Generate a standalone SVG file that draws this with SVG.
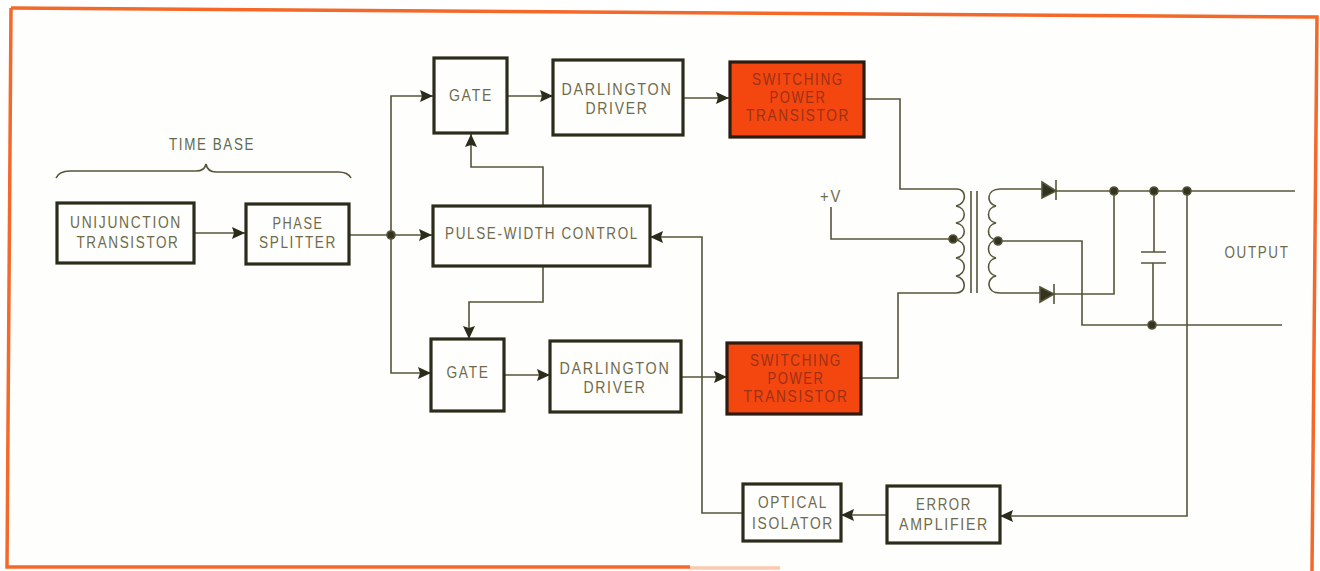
<svg xmlns="http://www.w3.org/2000/svg" width="1320" height="571" viewBox="0 0 1320 571">
<style>
.b{fill:#fefefc;stroke:#2c2c1c;stroke-width:3.2}
.r{fill:#f4460f;stroke:#2c1c12;stroke-width:3.2}
text{font-family:"Liberation Sans",Arial,sans-serif;font-size:16.5px;letter-spacing:2px;text-anchor:middle;fill:#6e6a4c}
.d{fill:#9c3216}
.w{fill:none;stroke:#55553a;stroke-width:1.6}
.dot{fill:#33331f}
</style>
<defs>
<marker id="a" markerUnits="userSpaceOnUse" markerWidth="14" markerHeight="12" refX="13" refY="6" orient="auto"><path d="M0 0L13 6L0 12L2 6Z" fill="#2c2c1c"/></marker>
</defs>
<rect width="1320" height="571" fill="#fff"/>
<path d="M10 9L1318 18L1312 571L6 571Z" fill="#fefefc"/>
<g id="border" fill="none" stroke="#f4682a" stroke-width="3.5">
<path d="M11 8L1317 17L1312 571"/>
<path d="M11 8L7 567H690"/>
<path d="M690 568H780" stroke="#fbc9b0"/>
</g>
<g id="connectors" class="w">
<path class="w" marker-end="url(#a)" d="M194 233H245"/>
<path class="w" d="M349 235H391"/>
<path class="w" marker-end="url(#a)" d="M391 235V96H433"/>
<path class="w" marker-end="url(#a)" d="M391 235H432"/>
<path class="w" marker-end="url(#a)" d="M391 235V373H431"/>
<path class="w" marker-end="url(#a)" d="M507 96H553"/>
<path class="w" marker-end="url(#a)" d="M683 98H729"/>
<path class="w" marker-end="url(#a)" d="M504 375H550"/>
<path class="w" marker-end="url(#a)" d="M681 377H727"/>
<path class="w" marker-end="url(#a)" d="M543 206V167H471V134"/>
<path class="w" marker-end="url(#a)" d="M543 266V302H469V339"/>
<path class="w" marker-end="url(#a)" d="M743 513H702V237H650"/>
<path class="w" marker-end="url(#a)" d="M887 515H841"/>
<path class="w" marker-end="url(#a)" d="M1187 191V516H1000"/>
<path class="w" d="M56 178C58 173 62 171 70 171H196C202 171 205 169 206 164C207 169 210 172 216 172H338C345 172 349 174 351 178"/>
<path class="w" d="M864 99H900V189H957"/>
<path class="w" d="M861 378H898V293H956"/>
<path class="w" d="M831 207V239H953"/>
<path class="w" d="M957 189C967 189 967 204 956 206C967 208 967 221 956 223C967 225 967 238 956 240C967 242 967 256 956 258C967 260 967 274 956 276C967 278 967 293 956 293"/>
<path class="w" d="M971 191V293M977 191V293"/>
<path class="w" d="M1000 189C986 189 986 204 996 206C986 208 986 221 996 223C986 225 986 238 996 240C986 242 986 256 996 258C986 260 986 274 996 276C986 278 986 293 1000 293"/>
<path class="w" d="M1000 189H1042M1056 191H1295"/>
<path class="w" d="M1000 293H1040M1054 294H1114V191"/>
<path class="w" d="M998 241H1082V325H1282"/>
<path class="w" d="M1154 191V252M1141 252H1166M1141 263H1166M1153 263V325"/>
<path class="w" d="M1056 180V200M1054 284V304"/>
<path d="M1042 182L1056 191L1042 198Z" fill="#33331f"/>
<path d="M1040 287L1054 294L1040 302Z" fill="#33331f"/>
<circle class="dot" cx="391" cy="235" r="4"/>
<circle class="dot" cx="953" cy="239" r="4"/>
<circle class="dot" cx="998" cy="241" r="4"/>
<circle class="dot" cx="1114" cy="191" r="4"/>
<circle class="dot" cx="1154" cy="191" r="4"/>
<circle class="dot" cx="1187" cy="191" r="4"/>
<circle class="dot" cx="1152" cy="325" r="4"/>
</g>
<g id="timebase"><text x="212" y="150" style="fill:#5c6b50" textLength="86" lengthAdjust="spacingAndGlyphs">TIME BASE</text></g>
<g id="ujt"><rect class="b" x="57" y="203" width="137" height="60"/><text x="126" y="228" textLength="112" lengthAdjust="spacingAndGlyphs">UNIJUNCTION</text><text x="128" y="248" textLength="103" lengthAdjust="spacingAndGlyphs">TRANSISTOR</text></g>
<g id="phase"><rect class="b" x="246" y="204" width="103" height="60"/><text x="298" y="229" textLength="51" lengthAdjust="spacingAndGlyphs">PHASE</text><text x="298" y="248" textLength="78" lengthAdjust="spacingAndGlyphs">SPLITTER</text></g>
<g id="gate1"><rect class="b" x="434" y="58" width="73" height="75"/><text x="471" y="101" textLength="44" lengthAdjust="spacingAndGlyphs">GATE</text></g>
<g id="darl1"><rect class="b" x="553" y="60" width="130" height="75"/><text x="617" y="95" textLength="111" lengthAdjust="spacingAndGlyphs">DARLINGTON</text><text x="617" y="114" textLength="63" lengthAdjust="spacingAndGlyphs">DRIVER</text></g>
<g id="spt1"><rect class="r" x="730" y="62" width="134" height="75"/><text class="d" x="798" y="85" textLength="92" lengthAdjust="spacingAndGlyphs">SWITCHING</text><text class="d" x="798" y="103" textLength="57" lengthAdjust="spacingAndGlyphs">POWER</text><text class="d" x="798" y="121" textLength="104" lengthAdjust="spacingAndGlyphs">TRANSISTOR</text></g>
<g id="pwc"><rect class="b" x="433" y="206" width="217" height="60"/><text x="542" y="239" textLength="194" lengthAdjust="spacingAndGlyphs">PULSE-WIDTH CONTROL</text></g>
<g id="gate2"><rect class="b" x="431" y="339" width="73" height="72"/><text x="468" y="378" textLength="43" lengthAdjust="spacingAndGlyphs">GATE</text></g>
<g id="darl2"><rect class="b" x="550" y="341" width="131" height="71"/><text x="615" y="374" textLength="111" lengthAdjust="spacingAndGlyphs">DARLINGTON</text><text x="615" y="393" textLength="63" lengthAdjust="spacingAndGlyphs">DRIVER</text></g>
<g id="spt2"><rect class="r" x="727" y="343" width="134" height="71"/><text class="d" x="796" y="366" textLength="92" lengthAdjust="spacingAndGlyphs">SWITCHING</text><text class="d" x="796" y="384" textLength="57" lengthAdjust="spacingAndGlyphs">POWER</text><text class="d" x="796" y="402" textLength="105" lengthAdjust="spacingAndGlyphs">TRANSISTOR</text></g>
<g id="opt"><rect class="b" x="743" y="484" width="98" height="57"/><text x="793" y="508" textLength="70" lengthAdjust="spacingAndGlyphs">OPTICAL</text><text x="793" y="529" textLength="82" lengthAdjust="spacingAndGlyphs">ISOLATOR</text></g>
<g id="err"><rect class="b" x="887" y="486" width="113" height="57"/><text x="944" y="510" textLength="56" lengthAdjust="spacingAndGlyphs">ERROR</text><text x="944" y="530" textLength="90" lengthAdjust="spacingAndGlyphs">AMPLIFIER</text></g>
<text x="831" y="202" textLength="22" lengthAdjust="spacingAndGlyphs">+V</text>
<text x="1257" y="258" textLength="65" lengthAdjust="spacingAndGlyphs">OUTPUT</text>
</svg>
